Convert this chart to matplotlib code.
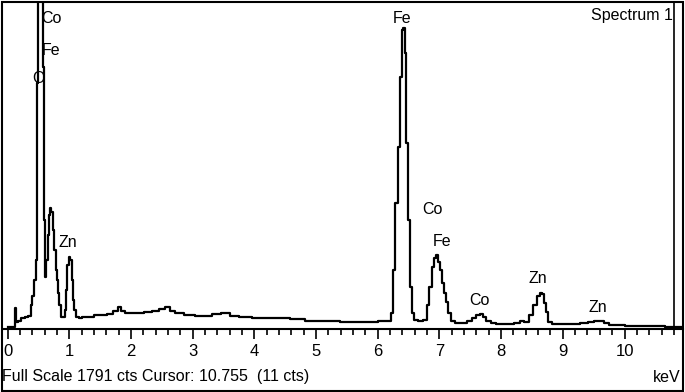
import matplotlib.pyplot as plt
from matplotlib.patches import Rectangle

# spectrum (keV, counts)
energy = [0.00, 0.07, 0.11, 0.12, 0.14, 0.19, 0.24, 0.32, 0.36, 0.40, 0.41, 0.45,
          0.46, 0.48, 0.49, 0.51, 0.53, 0.56, 0.58, 0.59, 0.62, 0.64, 0.66, 0.67,
          0.70, 0.72, 0.74, 0.77, 0.79, 0.80, 0.83, 0.85, 0.88, 0.92, 0.95, 0.96,
          0.98, 1.00, 1.04, 1.05, 1.08, 1.09, 1.13, 1.18, 1.24, 1.34, 1.45, 1.55,
          1.66, 1.76, 1.81, 1.86, 1.95, 2.15, 2.28, 2.39, 2.52, 2.60, 2.67, 2.76,
          2.96, 3.12, 3.28, 3.36, 3.57, 3.65, 3.85, 4.09, 4.42, 4.74, 4.90, 5.23,
          5.55, 5.88, 6.12, 6.20, 6.23, 6.26, 6.31, 6.35, 6.38, 6.40, 6.43, 6.44,
          6.48, 6.51, 6.54, 6.57, 6.60, 6.69, 6.78, 6.82, 6.85, 6.90, 6.93, 6.96,
          6.99, 7.03, 7.06, 7.09, 7.12, 7.17, 7.22, 7.29, 7.41, 7.50, 7.56, 7.63,
          7.68, 7.72, 7.79, 7.87, 7.98, 8.14, 8.27, 8.34, 8.40, 8.50, 8.55, 8.60,
          8.65, 8.68, 8.71, 8.74, 8.79, 8.87, 9.04, 9.20, 9.36, 9.47, 9.55, 9.63,
          9.70, 9.80, 9.93, 10.09, 10.25, 10.41, 10.58, 10.74, 10.95]
counts = [11, 11, 11, 115, 38, 44, 60, 66, 71, 131, 180, 268,
          377, 579, 1343, 2400, 2600, 2600, 1430, 595, 284, 377, 513, 622,
          661, 639, 540, 431, 322, 268, 197, 131, 66, 66, 104, 213,
          349, 393, 377, 268, 158, 104, 66, 60, 66, 66, 76, 76,
          82, 98, 120, 98, 87, 87, 93, 98, 109, 120, 98, 87,
          76, 71, 71, 82, 87, 71, 66, 60, 60, 55, 44, 44,
          38, 38, 44, 44, 87, 322, 688, 994, 1376, 1633, 1643, 1507,
          1016, 595, 229, 87, 49, 44, 49, 131, 229, 339, 388, 404,
          366, 322, 251, 197, 147, 87, 44, 33, 33, 44, 60, 76,
          82, 66, 44, 33, 27, 27, 33, 44, 38, 76, 131, 180,
          197, 191, 142, 93, 38, 27, 27, 27, 33, 38, 44, 44,
          33, 22, 22, 16, 16, 16, 16, 11, 11]

# element labels
label_text = ["Co", "Fe", "O", "Zn", "Fe", "Co", "Fe", "Co", "Zn", "Zn"]
label_kev = [0.54, 0.56, 0.40, 0.82, 6.25, 6.73, 6.90, 7.48, 8.45, 9.41]
label_cts = [1693, 1523, 1370, 470, 1693, 650, 480, 153, 278, 120]

full_scale = 1791
cursor_kev = 10.80

plt.rcParams['font.family'] = ['Liberation Sans', 'DejaVu Sans']

fig = plt.figure(figsize=(6.85, 3.92), dpi=100)
W, H = 685, 392
ax = fig.add_axes([3 / W, (H - 329) / H, 680 / W, 328 / H])

ax.plot(energy, counts, color='black', lw=1.6, drawstyle='steps-mid')
ax.axvline(cursor_kev, color='black', lw=1.2)

for t, x, y in zip(label_text, label_kev, label_cts):
    ax.text(x, y, t, fontsize=11.5, ha='left', va='center')

ax.text(0.985, 0.955, "Spectrum 1", transform=ax.transAxes, fontsize=11.5,
        ha='right', va='center')

ax.set_xlim(-0.073, 10.948)
ax.set_ylim(0, full_scale)
ax.set_xticks(range(11))
ax.set_xticks([i * 0.2 for i in range(55)], minor=True)
ax.set_yticks([])
ax.tick_params(axis='x', which='major', length=7, width=1.2, pad=4, labelsize=12)
ax.tick_params(axis='x', which='minor', length=4, width=1.2)
for s in ['top', 'left', 'right']:
    ax.spines[s].set_visible(False)
ax.spines['bottom'].set_linewidth(1.5)

fig.text(2 / W, 1 - 377 / H, "Full Scale 1791 cts Cursor: 10.755  (11 cts)",
         fontsize=11.5, ha='left', va='center')
fig.text(681 / W, 1 - 377 / H, "keV", fontsize=11.5, ha='right', va='center')

fig.add_artist(Rectangle((2 / W, 1 / H), 681 / W, 389 / H, transform=fig.transFigure,
                         fill=False, edgecolor='black', lw=1.5))

fig.savefig('out.png', dpi=100)
